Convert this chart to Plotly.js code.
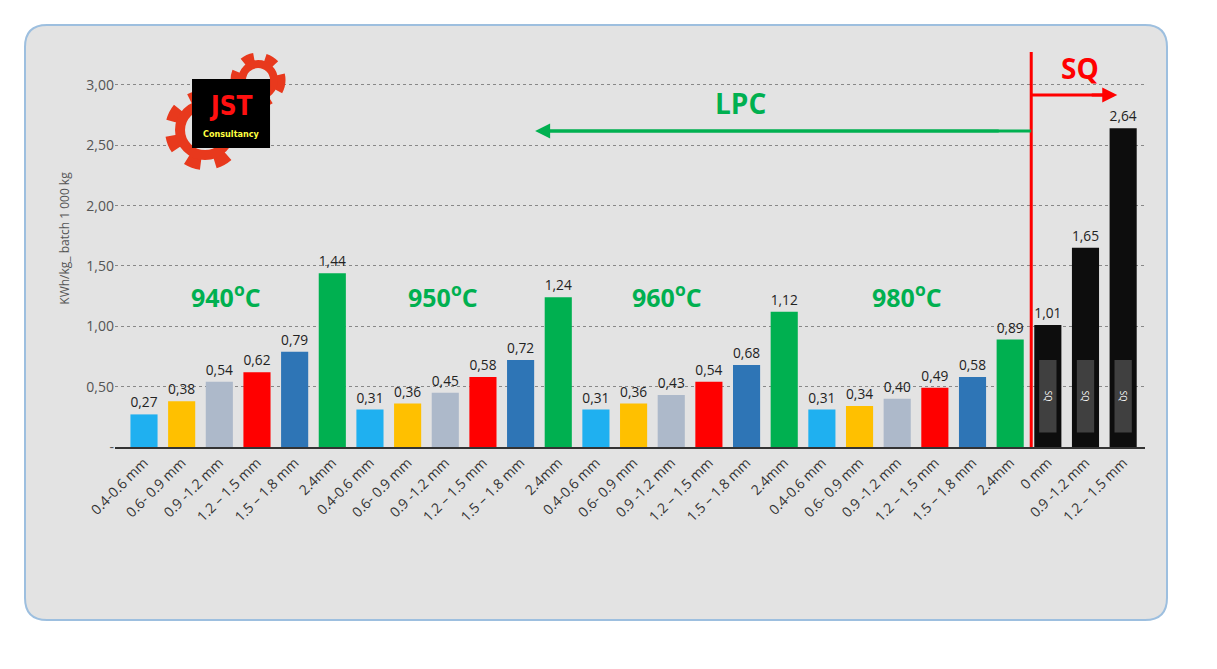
<!DOCTYPE html>
<html><head><meta charset="utf-8">
<script src="https://cdn.plot.ly/plotly-3.0.1.min.js"></script>
<style>body{margin:0;background:#fff}</style></head>
<body><div id="chart" style="width:1217px;height:669px"></div>
<script>
let sizes = ["0.4-0.6 mm", "0.6- 0.9 mm", "0.9 -1.2 mm", "1.2 – 1.5 mm", "1.5 – 1.8 mm", "2.4mm"];
let lpc_940 = [0.27, 0.38, 0.54, 0.62, 0.79, 1.44];
let lpc_950 = [0.31, 0.36, 0.45, 0.58, 0.72, 1.24];
let lpc_960 = [0.31, 0.36, 0.43, 0.54, 0.68, 1.12];
let lpc_980 = [0.31, 0.34, 0.40, 0.49, 0.58, 0.89];
let sq_labels = ["0 mm", "0.9 -1.2 mm", "1.2 – 1.5 mm"];
let sq_values = [1.01, 1.65, 2.64];
let size_colors = ["#1fb0f0", "#ffc000", "#adb9ca", "#ff0000", "#2e75b6", "#00b050"];
let temps = ["940", "950", "960", "980"];

var xs = [], ys = [], cols = [], labels = [];
[lpc_940, lpc_950, lpc_960, lpc_980].forEach(function (g) {
    g.forEach(function (v, i) {
        xs.push(xs.length); ys.push(v); cols.push(size_colors[i]); labels.push(sizes[i]);
    });
});
var sqx = [];
sq_values.forEach(function (v, i) {
    sqx.push(xs.length); xs.push(xs.length); ys.push(v); cols.push("#0d0d0d"); labels.push(sq_labels[i]);
});

// pixel -> data helpers for decorations
function px(p) { return (p - 144) / 37.65; }
function py(p) { return (447 - p) / 120.7; }
// pixel -> paper helpers for the card
function qx(p) { return (p - 115) / 1030; }
function qy(p) { return (447 - p) / 417; }

var data = [
    {
        type: "bar", x: xs, y: ys, width: 0.72,
        marker: {color: cols},
        text: ys.map(function (v) { return v.toFixed(2).replace(".", ","); }),
        textposition: "outside", cliponaxis: false,
        textfont: {size: 14, color: "#222", family: "Open Sans"},
        hoverinfo: "y"
    },
    {
        type: "bar", x: sqx, y: sqx.map(function () { return 0.6; }), base: 0.12, width: 0.46,
        marker: {color: "#404040"}, text: sqx.map(function () { return "SQ"; }),
        textposition: "inside", insidetextanchor: "middle", textangle: 90,
        textfont: {size: 10, color: "#fff"}, hoverinfo: "skip"
    }
];

var red = "#ff0000", green = "#00b050";
var r = 22;
var cardPath = "M " + qx(25 + r) + " " + qy(25) + " L " + qx(1167 - r) + " " + qy(25) +
    " Q " + qx(1167) + " " + qy(25) + " " + qx(1167) + " " + qy(25 + r) +
    " L " + qx(1167) + " " + qy(620 - r) + " Q " + qx(1167) + " " + qy(620) + " " + qx(1167 - r) + " " + qy(620) +
    " L " + qx(25 + r) + " " + qy(620) + " Q " + qx(25) + " " + qy(620) + " " + qx(25) + " " + qy(620 - r) +
    " L " + qx(25) + " " + qy(25 + r) + " Q " + qx(25) + " " + qy(25) + " " + qx(25 + r) + " " + qy(25) + " Z";
var shapes = [
    {type: "path", xref: "paper", yref: "paper", path: cardPath,
     fillcolor: "#e3e3e3", line: {color: "#9dbfdf", width: 2}, layer: "below"},
    {type: "line", x0: px(1031), x1: px(1031), y0: 0, y1: py(52), line: {color: red, width: 3}},
    {type: "line", x0: px(1031), x1: px(1110), y0: py(95), y1: py(95), line: {color: red, width: 3}},
    {type: "line", x0: px(1031), x1: px(545), y0: py(131), y1: py(131), line: {color: green, width: 3}},
    // logo gears
    {type: "circle", x0: px(172), x1: px(238), y0: py(97), y1: py(163), line: {color: "#e8391d", width: 14, dash: "dot"}},
    {type: "circle", x0: px(180), x1: px(230), y0: py(105), y1: py(155), line: {color: "#e8391d", width: 10}},
    {type: "circle", x0: px(236), x1: px(280), y0: py(58), y1: py(102), line: {color: "#e8391d", width: 11, dash: "dot"}},
    {type: "circle", x0: px(242), x1: px(274), y0: py(64), y1: py(96), line: {color: "#e8391d", width: 8}},
    {type: "rect", x0: px(192), x1: px(270), y0: py(148), y1: py(79), fillcolor: "#000", line: {width: 0}}
];

var annotations = [
    {x: px(535), y: py(131), ax: px(1000), ay: py(131), axref: "x", ayref: "y", showarrow: true,
     arrowhead: 2, arrowsize: 1, arrowwidth: 3, arrowcolor: green, text: ""},
    {x: px(1117), y: py(95), ax: px(1090), ay: py(95), axref: "x", ayref: "y", showarrow: true,
     arrowhead: 2, arrowsize: 1, arrowwidth: 3, arrowcolor: red, text: ""},
    {x: px(1080), y: py(68), text: "<b>SQ</b>", showarrow: false, font: {size: 28, color: red, family: "Open Sans"}},
    {x: px(740), y: py(103), text: "<b>LPC</b>", showarrow: false, font: {size: 28, color: green, family: "Open Sans"}},
    {x: px(231), y: py(106), text: "<b>JST</b>", showarrow: false, font: {size: 26, color: "#ff1010", family: "DejaVu Sans Condensed"}},
    {x: px(231), y: py(134), text: "<b>Consultancy</b>", showarrow: false, font: {size: 9, color: "#ffff40", family: "DejaVu Sans Condensed"}}
];
var tpos = [226, 443, 667, 907];
temps.forEach(function (t, i) {
    annotations.push({x: px(tpos[i]), y: py(295), text: "<b>" + t + "<sup>o</sup>C</b>", showarrow: false,
        font: {size: 25, color: green, family: "Open Sans"}});
});

var layout = {
    width: 1217, height: 669,
    margin: {l: 115, r: 72, t: 30, b: 222},
    paper_bgcolor: "#fff", plot_bgcolor: "rgba(0,0,0,0)",
    showlegend: false, barmode: "overlay", separators: ",.",
    font: {family: "Open Sans", color: "#333"},
    xaxis: {range: [-0.77, 26.58], tickvals: xs, ticktext: labels, tickangle: -45,
            tickfont: {size: 14, color: "#333"}, showgrid: false, zeroline: false,
            showline: true, linecolor: "#333", linewidth: 2, ticks: ""},
    yaxis: {range: [0, 3.455], tickvals: [0, 0.5, 1, 1.5, 2, 2.5, 3],
            ticktext: ["-", "0,50", "1,00", "1,50", "2,00", "2,50", "3,00"],
            tickfont: {size: 14, color: "#555"}, gridcolor: "#888", griddash: "dot", zeroline: false,
            title: {text: "KWh/kg_ batch 1 000 kg", font: {size: 12, color: "#555"}, standoff: 14}},
    shapes: shapes, annotations: annotations
};
Plotly.newPlot("chart", data, layout, {displayModeBar: false});
</script></body></html>
